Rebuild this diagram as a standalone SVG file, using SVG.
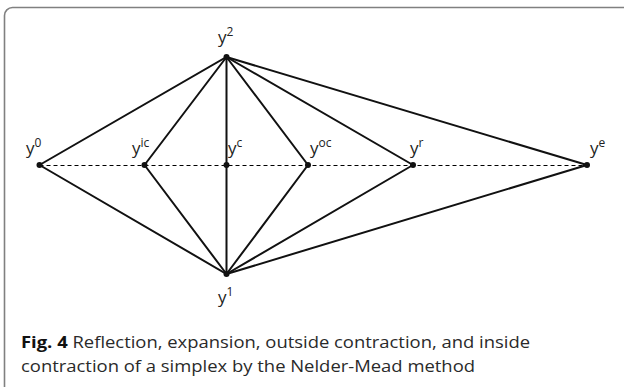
<svg xmlns="http://www.w3.org/2000/svg" width="624" height="387" viewBox="0 0 624 387">
<style>
.frame{fill:none;stroke:#808080;stroke-width:1.6}
.edge{stroke:#111;stroke-width:2;fill:none;stroke-linecap:round}
.axis{stroke:#000;stroke-width:1;stroke-dasharray:4 3;fill:none}
.dot{fill:#111}
.lbl{font-family:"Open Sans","Noto Sans",sans-serif;font-size:17px;fill:#222}
.sup{font-size:12px}
.cap{font-family:"Open Sans","Noto Sans",sans-serif;font-size:16px;fill:#2a2a2a}
</style>
<rect class="frame" x="4.5" y="7.5" width="640" height="400" rx="8"/>
<g id="connectors">
<line class="axis" x1="39.5" y1="165.5" x2="587" y2="165.5"/>
<polyline class="edge" points="39.5,165 226.5,57 226.5,274 39.5,165"/>
<polyline class="edge" points="144.5,165 226.5,57"/>
<polyline class="edge" points="144.5,165 226.5,274"/>
<polyline class="edge" points="308,165 226.5,57"/>
<polyline class="edge" points="308,165 226.5,274"/>
<polyline class="edge" points="413,165 226.5,57"/>
<polyline class="edge" points="413,165 226.5,274"/>
<polyline class="edge" points="587,165 226.5,57"/>
<polyline class="edge" points="587,165 226.5,274"/>
</g>
<g id="y2"><circle class="dot" cx="226.5" cy="57" r="3"/><text class="lbl" x="218" y="43">y<tspan class="sup" dy="-7">2</tspan></text></g>
<g id="y1"><circle class="dot" cx="226.5" cy="274" r="3"/><text class="lbl" x="218" y="303">y<tspan class="sup" dy="-7">1</tspan></text></g>
<g id="y0"><circle class="dot" cx="39.5" cy="165" r="3"/><text class="lbl" x="26" y="154">y<tspan class="sup" dy="-7">0</tspan></text></g>
<g id="yic"><circle class="dot" cx="144.5" cy="165" r="3"/><text class="lbl" x="132" y="154">y<tspan class="sup" dy="-7">ic</tspan></text></g>
<g id="yc"><circle class="dot" cx="226.5" cy="165" r="3"/><text class="lbl" x="228" y="154">y<tspan class="sup" dy="-7">c</tspan></text></g>
<g id="yoc"><circle class="dot" cx="308" cy="165" r="3"/><text class="lbl" x="310" y="154">y<tspan class="sup" dy="-7">oc</tspan></text></g>
<g id="yr"><circle class="dot" cx="413" cy="165" r="3"/><text class="lbl" x="410" y="154">y<tspan class="sup" dy="-7">r</tspan></text></g>
<g id="ye"><circle class="dot" cx="587" cy="165" r="3"/><text class="lbl" x="590" y="154">y<tspan class="sup" dy="-7">e</tspan></text></g>
<text class="cap" x="21" y="348" textLength="509" lengthAdjust="spacingAndGlyphs"><tspan font-weight="bold" fill="#111">Fig. 4</tspan> Reflection, expansion, outside contraction, and inside</text>
<text class="cap" x="21" y="372" textLength="454" lengthAdjust="spacingAndGlyphs">contraction of a simplex by the Nelder-Mead method</text>
</svg>
